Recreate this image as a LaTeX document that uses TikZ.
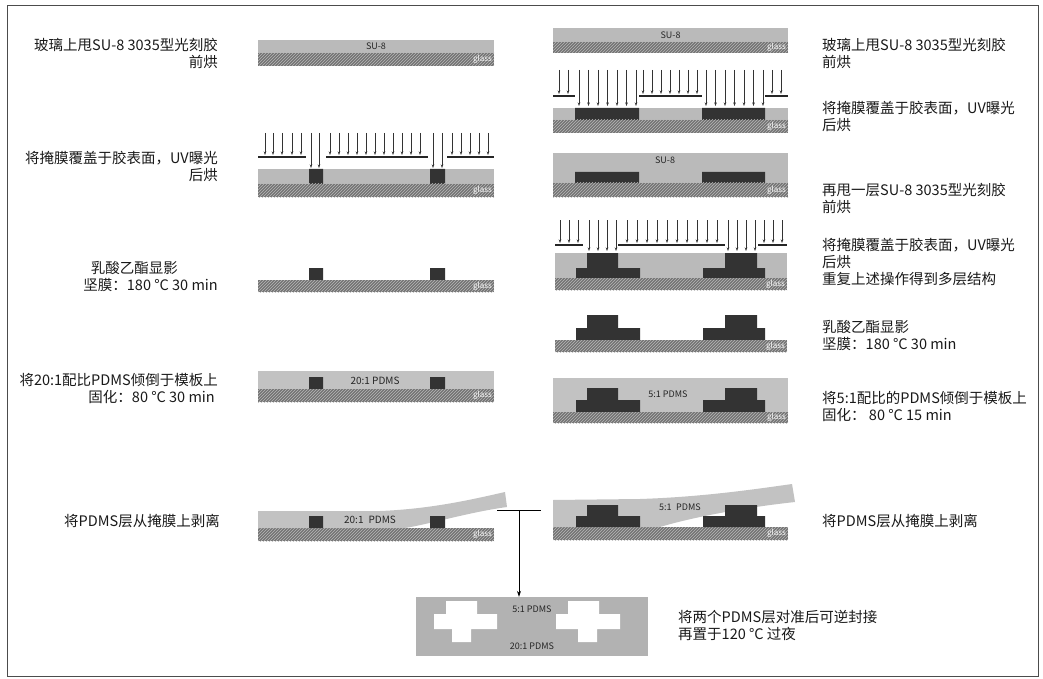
\documentclass[tikz,border=0pt]{standalone}
\usepackage{fontspec}
\setmainfont{Noto Sans CJK SC}
\usetikzlibrary{arrows.meta,patterns,positioning}

\tikzset{
  su8/.style={fill=black!27},
  pdms/.style={fill=black!24},
  exposed/.style={fill=black!80},
  glass/.style={fill=black!55, postaction={pattern=north east lines, pattern color=black!28}},
  uv/.style={-{Stealth[length=3.5pt,width=2.5pt]}, line width=0.6pt, black!80},
  mask/.style={line width=1.3pt, black!85},
  note/.style={font=\fontsize{14.5}{17}\selectfont, inner sep=0pt, text=black!90},
  tag/.style={font=\fontsize{9}{10}\selectfont, inner sep=0pt, text=black!85},
  glasstag/.style={font=\fontsize{8}{9}\selectfont, inner sep=0pt, text=white, anchor=east},
}

% glass slide with its label at the right end
\newcommand{\glassbar}[5]{%
  \fill[glass] (#2,#4) rectangle (#3,#5);
  \node[glasstag] (#1) at (#3-2,{(#4+#5)/2}) {glass};}

\begin{document}
\begin{tikzpicture}[x=1pt,y=-1pt]
\useasboundingbox (0,0) rectangle (1043,679);
\draw[black!70, line width=0.8pt] (7,5) rectangle (1038,676);

% left column: single layer mold
\fill[su8] (258,40) rectangle (494,53) node[midway, tag] (su8a) {SU-8};
\glassbar{ga}{258}{494}{53}{66}

\foreach \x in {265,273,282,292,301}
    \draw[uv] (\x,133) -- (\x,155);
\foreach \x in {330,339,...,420}
    \draw[uv] (\x,133) -- (\x,155);
\foreach \x in {452,461,...,488}
    \draw[uv] (\x,133) -- (\x,155);
\foreach \x in {311,319,433,442}
    \draw[uv] (\x,133) -- (\x,168);
\draw[mask] (258,157) -- (306,157) (326,157) -- (428,157) (447,157) -- (494,157);
\fill[su8] (258,169) rectangle (494,184);
\fill[exposed] (309,169) rectangle (323,184) (430,169) rectangle (445,184);
\glassbar{gb}{258}{494}{184}{197}

\fill[exposed] (309,268) rectangle (323,280) (430,268) rectangle (445,280);
\glassbar{gc}{258}{494}{280}{292}

\fill[pdms] (258,371) rectangle (494,389);
\fill[exposed] (309,377) rectangle (323,389) (430,377) rectangle (445,389);
\node[tag, font=\fontsize{10}{11}\selectfont] (pdmsa) at (375,381) {20:1 PDMS};
\glassbar{gd}{258}{494}{389}{402}

\glassbar{ge}{258}{494}{528}{541}
\fill[pdms] (258,511) -- (380,511) .. controls (430,509) and (470,500) .. (505,492)
    -- (507,507) .. controls (470,512) and (430,524) .. (405,528) -- (258,528) -- cycle;
\fill[exposed] (309,516) rectangle (323,528) (430,516) rectangle (445,528);
\node[tag, font=\fontsize{10}{11}\selectfont] (pdmsb) at (370,520) {20:1\enspace PDMS};

% right column: two layer mold
\fill[su8] (553,28) rectangle (788,42) node[midway, tag] (su8b) {SU-8};
\glassbar{gr1}{553}{788}{42}{53}

\foreach \x in {559,568,643,652,...,697,772,781}
    \draw[uv] (\x,70) -- (\x,94);
\foreach \x in {579,588.5,...,636,706,715.5,...,763}
    \draw[uv] (\x,70) -- (\x,106);
\draw[mask] (553,96) -- (575,96) (639,96) -- (702,96) (765,96) -- (788,96);
\fill[su8] (553,108) rectangle (788,120);
\fill[exposed] (575,108) rectangle (639,120) (702,108) rectangle (765,120);
\glassbar{gr2}{553}{788}{120}{133}

\fill[su8] (553,153) rectangle (788,183);
\node[tag] (su8c) at (665,160) {SU-8};
\fill[exposed] (575,172) rectangle (639,183) (702,172) rectangle (765,183);
\glassbar{gr3}{553}{788}{183}{197}

\foreach \x in {560,569,578,627,637,...,717,764,773,782}
    \draw[uv] (\x,220) -- (\x,243);
\foreach \x in {589,598,607,616,728,737,746,755}
    \draw[uv] (\x,220) -- (\x,251);
\draw[mask] (555,245) -- (583,245) (618,245) -- (725,245) (758,245) -- (787,245);
\fill[su8] (555,253) rectangle (787,278);
\fill[exposed] (587,253) rectangle (618,268) (725,253) rectangle (757,268);
\fill[exposed] (576,268) rectangle (640,278) (703,268) rectangle (765,278);
\glassbar{gr4}{555}{787}{278}{290}

\fill[exposed] (587,315) rectangle (618,328) (725,315) rectangle (757,328);
\fill[exposed] (576,328) rectangle (640,340) (703,328) rectangle (765,340);
\glassbar{gr5}{555}{787}{340}{352}

\fill[pdms] (553,378) rectangle (788,412);
\fill[exposed] (587,388) rectangle (618,400) (725,388) rectangle (757,400);
\fill[exposed] (576,400) rectangle (640,412) (703,400) rectangle (765,412);
\node[tag] (pdmsc) at (668,394) {5:1 PDMS};
\glassbar{gr6}{553}{788}{412}{423}

\glassbar{gr7}{553}{788}{527}{540}
\fill[pdms] (553,500) -- (640,499) .. controls (700,497) and (750,490) .. (792,484)
    -- (795,502) .. controls (740,508) and (690,518) .. (660,527) -- (553,527) -- cycle;
\fill[exposed] (587,505) rectangle (618,516) (725,505) rectangle (757,516);
\fill[exposed] (576,516) rectangle (640,527) (703,516) rectangle (765,527);
\node[tag] (pdmsd) at (680,507) {5:1\enspace PDMS};

% bonded device
\node[pdms, fill=black!30, minimum width=232pt, minimum height=59pt, inner sep=0pt] (bond) at (532,626.5) {};
\fill[white] (446,601) rectangle (477,614) (434,614) rectangle (497,629) (452,629) rectangle (471,642);
\fill[white] (568,601) rectangle (599,614) (556,614) rectangle (620,629) (578,629) rectangle (597,642);
\node[tag] (top) at (532,609) {5:1 PDMS};
\node[tag] (bottom) at (532,646) {20:1 PDMS};

\coordinate (tl) at (497,510);
\coordinate (tr) at (541,510);
\coordinate (tm) at (519,510);
\draw[line width=0.8pt] (tl) -- (tr);
\draw[line width=0.8pt, -{Stealth[length=6pt,width=4pt]}] (tm) -- (tm |- bond.north);

% notes
\node[note, anchor=north east, align=right] (l1) at (218,38) {玻璃上甩SU-8 3035型光刻胶\\前烘};
\node[note, anchor=north east, align=right] (l2) at (218,151) {将掩膜覆盖于胶表面，UV曝光\\后烘};
\node[note, anchor=north east, align=right] (l3) at (218,261) {乳酸乙酯显影\hspace*{40pt}\\坚膜：180 °C 30 min};
\node[note, anchor=north east, align=right] (l4) at (218,373) {将20:1配比PDMS倾倒于模板上\\固化：80 °C 30 min\hspace*{3pt}};
\node[note, anchor=north east] (l5) at (220,514) {将PDMS层从掩膜上剥离};

\node[note, anchor=north west, align=left] (r1) at (822,38) {玻璃上甩SU-8 3035型光刻胶\\前烘};
\node[note, anchor=north west, align=left] (r2) at (822,101) {将掩膜覆盖于胶表面，UV曝光\\后烘};
\node[note, anchor=north west, align=left] (r3) at (822,183) {再甩一层SU-8 3035型光刻胶\\前烘};
\node[note, anchor=north west, align=left] (r4) at (822,238) {将掩膜覆盖于胶表面，UV曝光\\后烘\\重复上述操作得到多层结构};
\node[note, anchor=north west, align=left] (r5) at (822,320) {乳酸乙酯显影\\坚膜：180 °C 30 min};
\node[note, anchor=north west, align=left] (r6) at (822,391) {将5:1配比的PDMS倾倒于模板上\\固化： 80 °C 15 min};
\node[note, anchor=north west] (r7) at (822,514) {将PDMS层从掩膜上剥离};
\node[note, anchor=north west, align=left] (r8) at (678,610) {将两个PDMS层对准后可逆封接\\再置于120 °C 过夜};
\end{tikzpicture}
\end{document}
